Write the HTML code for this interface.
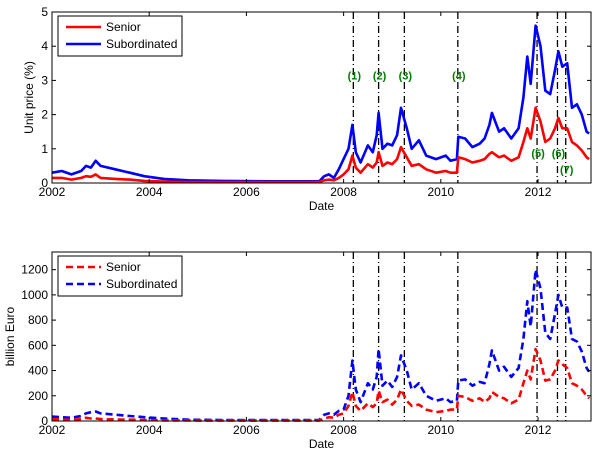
<!DOCTYPE html>
<html><head><meta charset="utf-8">
<style>
body{margin:0;background:#fff;}
svg{display:block;font-family:"Liberation Sans",Arial,sans-serif;}
</style></head>
<body>
<svg id="chart" width="600" height="459" viewBox="0 0 600 459"></svg>
<script>
const dates=[2002.0,2002.2,2002.4,2002.6,2002.7,2002.8,2002.9,2003.0,2003.3,2003.6,2003.9,2004.3,2004.8,2005.5,2006.5,2007.5,2007.6,2007.7,2007.8,2007.9,2008.0,2008.1,2008.18,2008.25,2008.35,2008.5,2008.6,2008.68,2008.72,2008.8,2008.9,2009.0,2009.1,2009.18,2009.3,2009.4,2009.55,2009.7,2009.9,2010.1,2010.2,2010.33,2010.36,2010.5,2010.65,2010.8,2010.9,2011.0,2011.05,2011.2,2011.3,2011.45,2011.6,2011.7,2011.78,2011.85,2011.95,2012.05,2012.15,2012.25,2012.35,2012.42,2012.5,2012.6,2012.7,2012.8,2012.9,2013.0,2013.05];
const priceSub=[0.3,0.35,0.25,0.35,0.5,0.45,0.65,0.5,0.4,0.3,0.2,0.12,0.08,0.06,0.05,0.05,0.2,0.25,0.15,0.4,0.7,1.0,1.7,0.9,0.6,1.1,0.9,1.4,2.05,1.0,1.15,1.1,1.4,2.2,1.6,1.0,1.25,0.8,0.7,0.8,0.65,0.7,1.35,1.3,1.05,1.15,1.3,1.7,2.05,1.5,1.6,1.3,1.6,2.5,3.7,2.9,4.6,4.0,2.7,2.6,3.3,3.85,3.4,3.5,2.2,2.3,2.0,1.5,1.45];
const priceSen=[0.15,0.15,0.1,0.15,0.2,0.18,0.25,0.15,0.12,0.1,0.06,0.04,0.03,0.03,0.03,0.03,0.08,0.1,0.08,0.15,0.25,0.4,0.8,0.45,0.3,0.55,0.45,0.6,0.9,0.5,0.6,0.55,0.7,1.05,0.75,0.5,0.55,0.4,0.3,0.35,0.3,0.3,0.75,0.7,0.6,0.65,0.7,0.85,0.9,0.75,0.8,0.65,0.75,1.2,1.6,1.3,2.2,1.8,1.2,1.3,1.6,1.9,1.6,1.6,1.2,1.1,0.95,0.75,0.7];
const amtSub=[35,30,25,40,60,70,75,60,50,40,30,20,10,8,8,8,50,60,50,80,90,200,480,250,150,300,250,350,570,280,320,270,350,520,400,250,300,200,160,180,150,160,320,330,280,310,300,450,560,400,430,350,420,650,950,750,1200,1050,700,650,850,1000,900,900,650,630,550,420,390];
const amtSen=[15,12,8,15,25,20,20,15,12,10,8,5,4,3,3,3,20,30,25,50,60,120,230,120,80,140,110,140,240,150,170,130,170,250,160,120,130,90,70,80,90,90,200,190,160,180,150,180,230,190,180,140,170,300,400,330,570,480,320,330,400,480,450,420,300,280,250,200,180];
const events=[2008.2,2008.72,2009.25,2010.35,2011.98,2012.4,2012.57];
const eventLabels=["(1)","(2)","(3)","(4)","(5)","(6)","(7)"];
const eventLabelY=[3.15,3.15,3.15,3.15,0.87,0.87,0.4];
const xTicks=[2002,2004,2006,2008,2010,2012];
const yTicksTop=[0,1,2,3,4,5];
const yTicksBot=[0,200,400,600,800,1000,1200];

const NS="http://www.w3.org/2000/svg";
const svg=document.getElementById('chart');
function mk(tag,attrs,parent){const e=document.createElementNS(NS,tag);for(const k in attrs)e.setAttribute(k,attrs[k]);(parent||svg).appendChild(e);return e;}
const X0=52,X1=591,xmin=2002,xmax=2013.09;
const xs=v=>X0+(v-xmin)/(xmax-xmin)*(X1-X0);

function panel(name,top,bot,ymax,yTicks,sub,sen,dashed,ylabel,labels,ylabX){
  const g=mk('g',{});
  
  
  const ys=v=>bot-(v/ymax)*(bot-top);
  mk('rect',{x:X0,y:top,width:X1-X0,height:bot-top,fill:'#fff',stroke:'none'},g);
  events.forEach((d,i)=>{
    const l=mk('line',{x1:xs(d),x2:xs(d),y1:top,y2:bot,stroke:'#000','stroke-width':1.3,'stroke-dasharray':'7,3,1,3'},g);
    
    
  });
  const line=(vals,col,nm)=>{
    const p=mk('polyline',{points:dates.map((d,i)=>xs(d).toFixed(1)+','+ys(vals[i]).toFixed(1)).join(' '),fill:'none',stroke:col,'stroke-width':2.6,'stroke-linejoin':'round','stroke-dasharray':dashed?'7,4':'none'},g);
    
    
  };
  line(sub,'#0000ff','subordinated-line');
  line(sen,'#ff0000','senior-line');
  if(labels){
    eventLabels.forEach((t,i)=>{
      const tx=mk('text',{x:xs(events[i])+1,y:ys(eventLabelY[i])+4,'font-size':11,'font-weight':'bold',fill:'#007a00','text-anchor':'middle'},g);
      tx.textContent=t;
      
      
    });
  }
  mk('rect',{x:X0,y:top,width:X1-X0,height:bot-top,fill:'none',stroke:'#000','stroke-width':1},g);
  xTicks.forEach(t=>{
    const x=xs(t);
    mk('line',{x1:x,x2:x,y1:bot,y2:bot-4,stroke:'#000'},g);
    mk('line',{x1:x,x2:x,y1:top,y2:top+4,stroke:'#000'},g);
    const tx=mk('text',{x:x,y:bot+13,'font-size':12,'text-anchor':'middle'},g);
    tx.textContent=t;
    
    
  });
  yTicks.forEach(t=>{
    const y=ys(t);
    mk('line',{x1:X0,x2:X0+4,y1:y,y2:y,stroke:'#000'},g);
    mk('line',{x1:X1,x2:X1-4,y1:y,y2:y,stroke:'#000'},g);
    const tx=mk('text',{x:X0-4,y:y+4,'font-size':12,'text-anchor':'end'},g);
    tx.textContent=t;
    
    
  });
  const xl=mk('text',{x:(X0+X1)/2,y:bot+27,'font-size':12,'text-anchor':'middle'},g);
  xl.textContent='Date';
  
  
  const yl=mk('text',{x:0,y:0,'font-size':12,'text-anchor':'middle',transform:`translate(${ylabX},${(top+bot)/2}) rotate(-90)`},g);
  yl.textContent=ylabel;
  
  
  const lg=mk('g',{},g);
  
  
  mk('rect',{x:58,y:top+4,width:124,height:40,fill:'#fff',stroke:'#000'},lg);
  [['Senior','#ff0000'],['Subordinated','#0000ff']].forEach((s,i)=>{
    const y=top+15+i*17;
    mk('line',{x1:66,x2:101,y1:y,y2:y,stroke:s[1],'stroke-width':2.6,'stroke-dasharray':dashed?'7,4':'none'},lg);
    const tx=mk('text',{x:106,y:y+4,'font-size':12},lg);
    tx.textContent=s[0];
    
    
  });
}
panel('unit-price-panel',12,183,5,yTicksTop,priceSub,priceSen,false,'Unit price (%)',true,33);
panel('amount-panel',252,421,1340,yTicksBot,amtSub,amtSen,true,'billion Euro',false,14);
</script>
</body></html>
